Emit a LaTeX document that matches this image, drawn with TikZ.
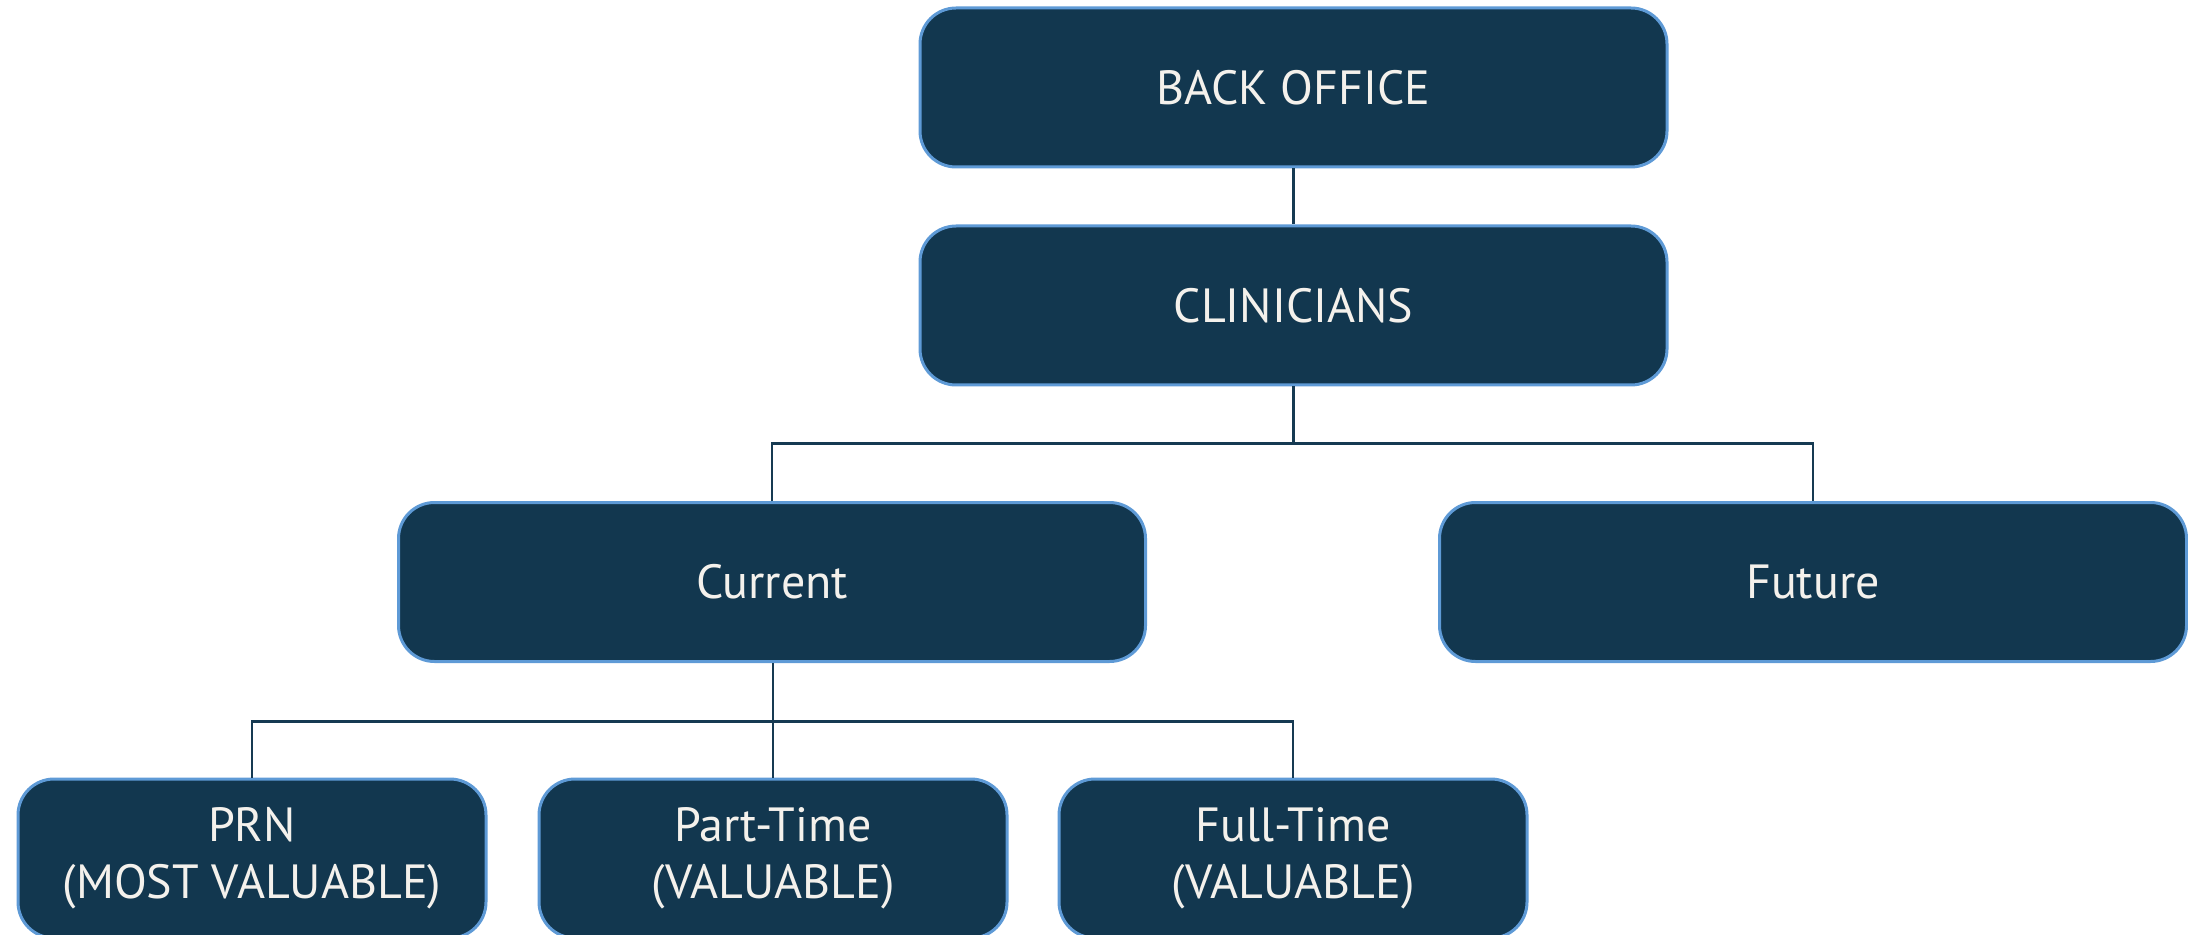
\documentclass[tikz,border=0pt]{standalone}
\usepackage{fontspec}
\setmainfont{PT Sans}
\begin{document}
\definecolor{boxfill}{HTML}{12374F}
\definecolor{boxedge}{HTML}{5E9AD6}
\definecolor{linkcol}{HTML}{163A52}
\definecolor{labelcol}{HTML}{F4F1EC}
\begin{tikzpicture}[x=0.5pt,y=-0.5pt,
  orgbox/.style={rectangle, rounded corners=18pt, fill=boxfill, draw=boxedge,
    line width=1.5pt, text=labelcol, inner sep=0pt, align=center,
    minimum height=79.5pt,
    font=\fontsize{24}{28.5}\selectfont},
  widebox/.style={orgbox, minimum width=373.5pt},
  smallbox/.style={orgbox, minimum width=234pt},
  link/.style={draw=linkcol, line width=1.1pt}]
  \useasboundingbox (0,0) rectangle (2188,935);

  % top two levels
  \node[widebox] (back) at (1293.5,87.5) {BACK OFFICE};
  \node[widebox] (clin) at (1293.5,305.5) {CLINICIANS};

  % current / future
  \node[widebox] (cur) at (772,582) {Current};
  \node[widebox] (fut) at (1813,582) {Future};

  % employment types
  \node[smallbox] (prn)  at (252,858.5)  {PRN\\(MOST VALUABLE)};
  \node[smallbox] (part) at (773,858.5)  {Part-Time\\(VALUABLE)};
  \node[smallbox] (full) at (1293,858.5) {Full-Time\\(VALUABLE)};

  % bus lines
  \coordinate (busA) at (1293.5,443.5);
  \coordinate (busB) at (773,721.5);

  \path[link] (back.south) -- (clin.north);
  \path[link] (clin.south) -- (busA);
  \path[link] (cur.north) -- (cur.north |- busA) -- (fut.north |- busA) -- (fut.north);
  \path[link] (part.north |- cur.south) -- (part.north);
  \path[link] (prn.north) -- (prn.north |- busB) -- (full.north |- busB) -- (full.north);
\end{tikzpicture}
\end{document}
